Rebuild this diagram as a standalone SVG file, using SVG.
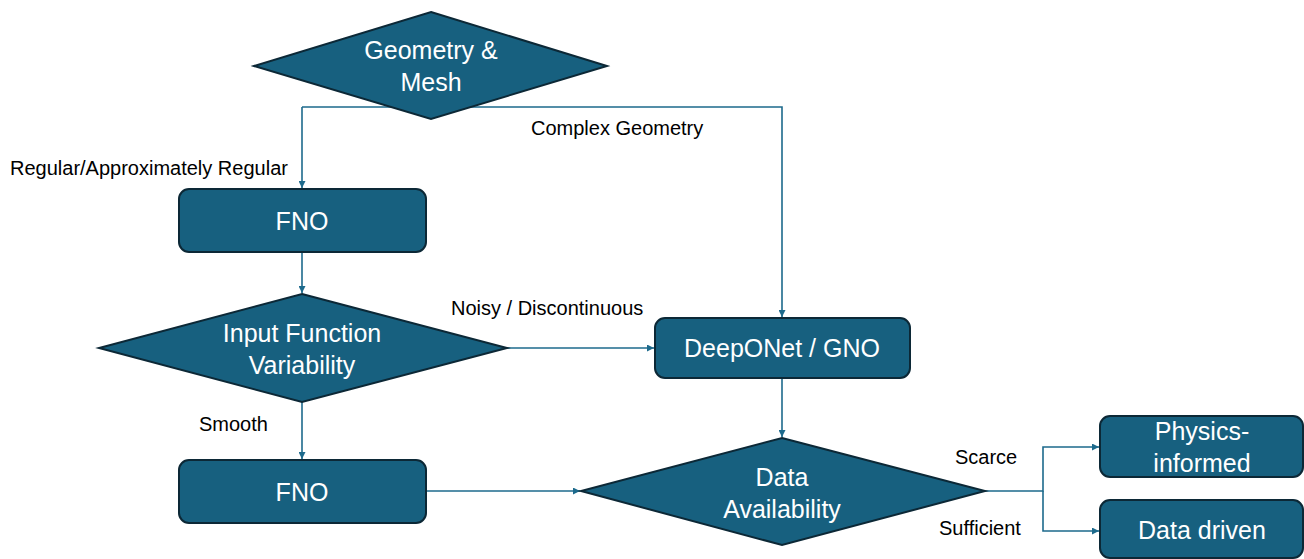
<svg xmlns="http://www.w3.org/2000/svg" width="1304" height="559" viewBox="0 0 1304 559">
<defs>
<style>
.n{fill:#17607f;stroke:#0c2836;stroke-width:2}
.t{fill:#fff;font-family:"Liberation Sans",Arial,sans-serif;font-size:25px;text-anchor:middle}
.l{fill:#000;font-family:"Liberation Sans",Arial,sans-serif;font-size:20px}
.c{fill:none;stroke:#1d6a8c;stroke-width:1.6}
</style>
<marker id="a" viewBox="0 0 10 10" refX="10" refY="5" markerWidth="7" markerHeight="7" markerUnits="userSpaceOnUse" orient="auto">
<path d="M0,0L10,5L0,10z" fill="#1d6a8c"/>
</marker>
</defs>
<rect width="1304" height="559" fill="#fff"/>
<g id="connectors">
<path class="c" d="M302,107H782V317" marker-end="url(#a)"/>
<path class="c" d="M302,107V188" marker-end="url(#a)"/>
<path class="c" d="M302,253V293" marker-end="url(#a)"/>
<path class="c" d="M507,348H654" marker-end="url(#a)"/>
<path class="c" d="M302,402V459" marker-end="url(#a)"/>
<path class="c" d="M782,378V437" marker-end="url(#a)"/>
<path class="c" d="M426,491H580" marker-end="url(#a)"/>
<path class="c" d="M985,491H1043V447H1099" marker-end="url(#a)"/>
<path class="c" d="M1043,491V531H1099" marker-end="url(#a)"/>
</g>
<g id="geometry">
<polygon class="n" points="431,12 607,66 431,119 254,66"/>
<text class="t" x="431" y="59">Geometry &amp;</text>
<text class="t" x="431" y="91">Mesh</text>
</g>
<g id="fno1">
<rect class="n" x="179" y="189" width="247" height="63" rx="10"/>
<text class="t" x="302" y="230">FNO</text>
</g>
<g id="input">
<polygon class="n" points="302,294 507,348 302,402 99,348"/>
<text class="t" x="302" y="342">Input Function</text>
<text class="t" x="302" y="374">Variability</text>
</g>
<g id="deeponet">
<rect class="n" x="655" y="318" width="255" height="60" rx="10"/>
<text class="t" x="782" y="357">DeepONet / GNO</text>
</g>
<g id="fno2">
<rect class="n" x="179" y="460" width="247" height="63" rx="10"/>
<text class="t" x="302" y="501">FNO</text>
</g>
<g id="data">
<polygon class="n" points="782,438 985,491 782,545 581,491"/>
<text class="t" x="782" y="486">Data</text>
<text class="t" x="782" y="518">Availability</text>
</g>
<g id="physics">
<rect class="n" x="1100" y="416" width="203" height="61" rx="10"/>
<text class="t" x="1202" y="440">Physics-</text>
<text class="t" x="1202" y="472">informed</text>
</g>
<g id="datadriven">
<rect class="n" x="1100" y="500" width="203" height="58" rx="10"/>
<text class="t" x="1202" y="539">Data driven</text>
</g>
<g id="labels">
<text class="l" x="10" y="175">Regular/Approximately Regular</text>
<text class="l" x="531" y="135">Complex Geometry</text>
<text class="l" x="451" y="315">Noisy / Discontinuous</text>
<text class="l" x="199" y="431">Smooth</text>
<text class="l" x="955" y="464">Scarce</text>
<text class="l" x="939" y="535">Sufficient</text>
</g>
</svg>
